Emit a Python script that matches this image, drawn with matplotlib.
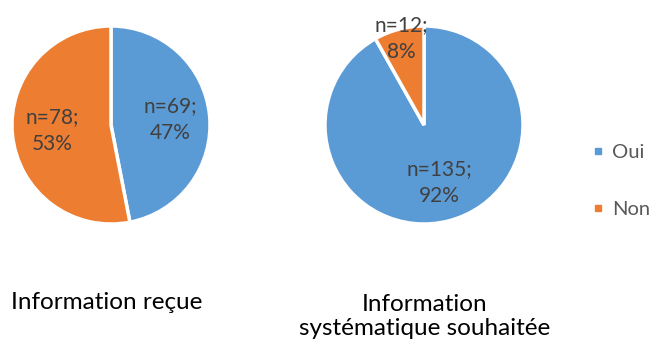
import numpy as np
import matplotlib
matplotlib.use("Agg")
import matplotlib.pyplot as plt
from matplotlib.lines import Line2D

plt.rcParams['font.family'] = ['Lato', 'DejaVu Sans']

categories = ["Oui", "Non"]
recue = [69, 78]
souhaitee = [135, 12]
titles = ["Information reçue", "Information\nsystématique souhaitée"]
colors = ["#5B9BD5", "#ED7D31"]

W, H = 656, 347
fig = plt.figure(figsize=(W / 100, H / 100), dpi=100)


def px_axes(cx, cy, r):
    return fig.add_axes([(cx - r) / W, (H - cy - r) / H, 2 * r / W, 2 * r / H])


def draw_pie(ax, values, label_dist):
    total = sum(values)
    wedges, _ = ax.pie(values, colors=colors, startangle=90, counterclock=False,
                       radius=1.0,
                       wedgeprops=dict(edgecolor="white", linewidth=2.5))
    for w, v, d in zip(wedges, values, label_dist):
        mid = np.deg2rad((w.theta1 + w.theta2) / 2)
        pct = round(100 * v / total)
        ax.text(d * np.cos(mid), d * np.sin(mid), f"n={v};\n{pct}%",
                ha="center", va="center", fontsize=15, color="#404040",
                linespacing=1.45)
    ax.set_xlim(-1.02, 1.02)
    ax.set_ylim(-1.02, 1.02)
    ax.set_aspect("equal")
    ax.axis("off")


ax1 = px_axes(111, 125, 101)
draw_pie(ax1, recue, [0.6, 0.6])
ax2 = px_axes(424, 125, 101)
draw_pie(ax2, souhaitee, [0.6, 0.9])

fig.text(107 / W, 1 - 309 / H, titles[0], ha="center", va="baseline",
         fontsize=17.5, color="#000000")
fig.text(425 / W, 1 - 335 / H, titles[1], ha="center", va="baseline",
         fontsize=17.5, color="#000000", linespacing=1.2)

handles = [Line2D([], [], marker="s", linestyle="none", markersize=4.5,
                  markerfacecolor=c, markeredgecolor=c) for c in colors]
fig.legend(handles, categories, loc="center left",
           bbox_to_anchor=(580 / W, 1 - 181 / H), frameon=False,
           fontsize=14.5, labelcolor="#595959", labelspacing=1.95,
           handletextpad=0.3, handlelength=0.8, borderpad=0)

fig.savefig("out.png", dpi=100, facecolor="white")
